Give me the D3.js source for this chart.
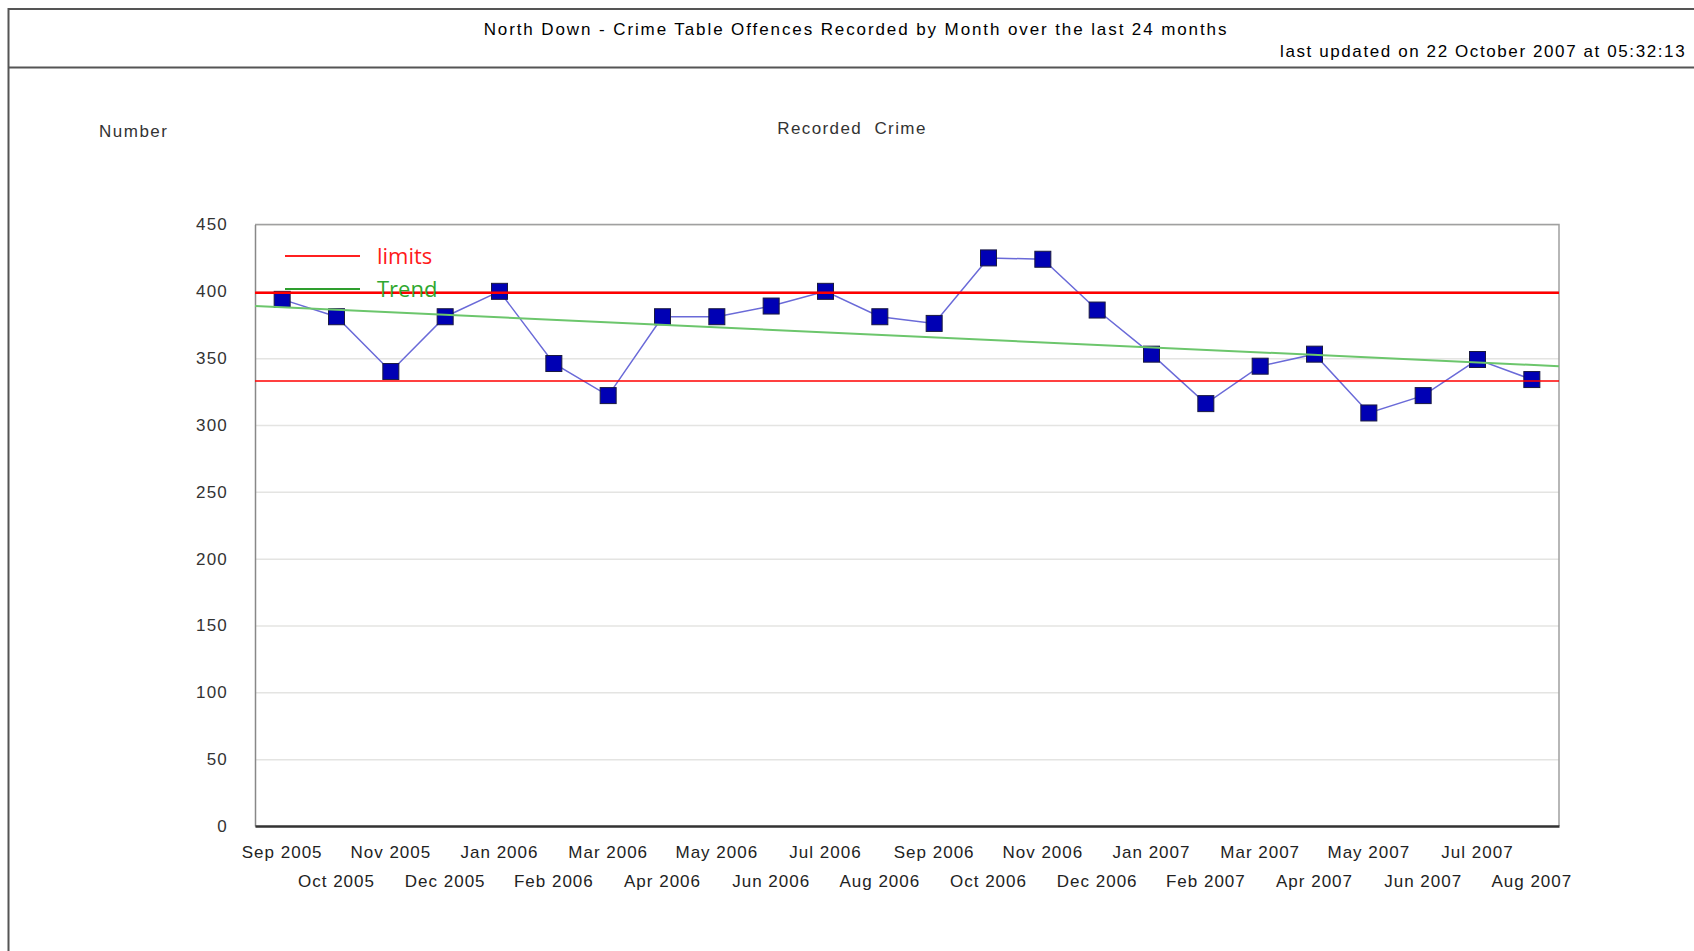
<!DOCTYPE html>
<html>
<head>
<meta charset="utf-8">
<script src="https://cdn.jsdelivr.net/npm/d3@7"></script>
<style>
  body { margin: 0; background: #fff; }
  svg { display: block; font-family: "Liberation Sans", Arial, sans-serif; }
</style>
</head>
<body>
<svg width="1694" height="951"></svg>
<script>
const months = [
    "Sep 2005", "Oct 2005", "Nov 2005", "Dec 2005", "Jan 2006", "Feb 2006",
    "Mar 2006", "Apr 2006", "May 2006", "Jun 2006", "Jul 2006", "Aug 2006",
    "Sep 2006", "Oct 2006", "Nov 2006", "Dec 2006", "Jan 2007", "Feb 2007",
    "Mar 2007", "Apr 2007", "May 2007", "Jun 2007", "Jul 2007", "Aug 2007"
];
const crimes = [394, 381, 340, 381, 400, 346, 322, 381, 381, 389, 400, 381,
                376, 425, 424, 386, 353, 316, 344, 353, 309, 322, 349, 334];
const limits = [399, 333];             // upper, lower control limits
const trendEnds = [389, 344];          // trend at left / right edge of plot
const yTicks = [0, 50, 100, 150, 200, 250, 300, 350, 400, 450];

const svg = d3.select("svg");
const width = +svg.attr("width");
const plot = { left: 255, right: 1559, top: 224.5, bottom: 826 };

// Frame and header
svg.append("rect")
    .attr("x", 8.5).attr("y", 9)
    .attr("width", 1720).attr("height", 1000)
    .attr("fill", "none").attr("stroke", "#555").attr("stroke-width", 2);
svg.append("line")
    .attr("x1", 8).attr("x2", width)
    .attr("y1", 67.5).attr("y2", 67.5)
    .attr("stroke", "#555").attr("stroke-width", 2);

svg.append("text")
    .attr("x", 856).attr("y", 35)
    .attr("text-anchor", "middle")
    .style("font-size", "17px").style("letter-spacing", "1.9px")
    .attr("fill", "#000")
    .text("North Down - Crime Table Offences Recorded by Month over the last 24 months");
svg.append("text")
    .attr("x", 1280).attr("y", 57)
    .style("font-size", "17px").style("letter-spacing", "1.6px")
    .attr("fill", "#000")
    .text("last updated on 22 October 2007 at 05:32:13");

svg.append("text")
    .attr("x", 99).attr("y", 137)
    .style("font-size", "17px").style("letter-spacing", "1.5px")
    .attr("fill", "#333")
    .text("Number");
svg.append("text")
    .attr("x", 852).attr("y", 134)
    .attr("text-anchor", "middle")
    .style("font-size", "17px").style("letter-spacing", "1.4px")
    .style("white-space", "pre")
    .attr("fill", "#333")
    .text("Recorded  Crime");

// Scales
const x = d3.scaleBand()
    .domain(months)
    .range([plot.left, plot.right]);
const xi = d3.scaleLinear() // index based, for the trend line
    .domain([-0.5, months.length - 0.5])
    .range([plot.left, plot.right]);
const y = d3.scaleLinear()
    .domain([0, 450])
    .range([plot.bottom, plot.top]);
const cx = d => x(d) + x.bandwidth() / 2;

// Gridlines
const grid = svg.append("g")
    .attr("transform", `translate(${plot.left},0)`)
    .call(d3.axisLeft(y).tickValues(yTicks).tickSize(-(plot.right - plot.left)).tickFormat(""));
grid.select(".domain").remove();
grid.selectAll("line").attr("stroke", "#e4e4e2").attr("stroke-width", 1.5);

// Plot border (top + right)
svg.append("path")
    .attr("d", `M${plot.left},${plot.top}H${plot.right}V${plot.bottom}`)
    .attr("fill", "none").attr("stroke", "#a0a0a0").attr("stroke-width", 1.5);

// Y axis
const yAxis = svg.append("g")
    .attr("transform", `translate(${plot.left},0)`)
    .call(d3.axisLeft(y).tickValues(yTicks).tickSize(0).tickPadding(27));
yAxis.select(".domain").attr("stroke", "#888").attr("stroke-width", 1.5);
yAxis.selectAll("text")
    .style("font-size", "17px").style("letter-spacing", "1.2px")
    .style("font-family", "Liberation Sans, Arial, sans-serif")
    .attr("fill", "#333");

// X axis with staggered labels
const xAxis = svg.append("g")
    .attr("transform", `translate(0,${plot.bottom})`)
    .call(d3.axisBottom(x).tickSize(0));
xAxis.select(".domain").attr("stroke", "#333").attr("stroke-width", 2.5);
xAxis.selectAll("text")
    .style("font-size", "17px").style("letter-spacing", "1px")
    .style("font-family", "Liberation Sans, Arial, sans-serif")
    .attr("fill", "#222")
    .attr("dy", null)
    .attr("y", (d, i) => i % 2 === 0 ? 32 : 61);

// Data line and markers
const series = months.map((m, i) => ({ month: m, value: crimes[i] }));
svg.append("path")
    .datum(series)
    .attr("d", d3.line().x(d => cx(d.month)).y(d => y(d.value)))
    .attr("fill", "none").attr("stroke", "#6a6ad8").attr("stroke-width", 1.5);

const size = 16;
svg.append("g").selectAll("rect")
    .data(series)
    .join("rect")
    .attr("x", d => cx(d.month) - size / 2)
    .attr("y", d => y(d.value) - size / 2)
    .attr("width", size).attr("height", size)
    .attr("fill", "#0000b4")
    .attr("stroke", "#1a1a40").attr("stroke-width", 1);

// Trend
svg.append("line")
    .attr("x1", xi(-0.5)).attr("y1", y(trendEnds[0]))
    .attr("x2", xi(months.length - 0.5)).attr("y2", y(trendEnds[1]))
    .attr("stroke", "#6cc66c").attr("stroke-width", 2);

// Limits
svg.append("g").selectAll("line")
    .data(limits)
    .join("line")
    .attr("x1", plot.left).attr("x2", plot.right)
    .attr("y1", d => y(d)).attr("y2", d => y(d))
    .attr("stroke", "#ff0000")
    .attr("stroke-width", (d, i) => i === 0 ? 2.5 : 1.5);

// Legend
const legend = [
    { label: "limits", color: "#ff1a1a", line: "#ff2020", y: 256 },
    { label: "Trend", color: "#2ea82e", line: "#2e9e2e", y: 289 }
];
const lg = svg.append("g").selectAll("g")
    .data(legend)
    .join("g")
    .attr("transform", d => `translate(0,${d.y})`);
lg.append("line")
    .attr("x1", 285).attr("x2", 360)
    .attr("stroke", d => d.line).attr("stroke-width", 2);
lg.append("text")
    .attr("x", 377).attr("y", 8)
    .style("font-family", "'Open Sans', sans-serif")
    .style("font-size", "22px")
    .attr("fill", d => d.color)
    .text(d => d.label);
</script>
</body>
</html>
